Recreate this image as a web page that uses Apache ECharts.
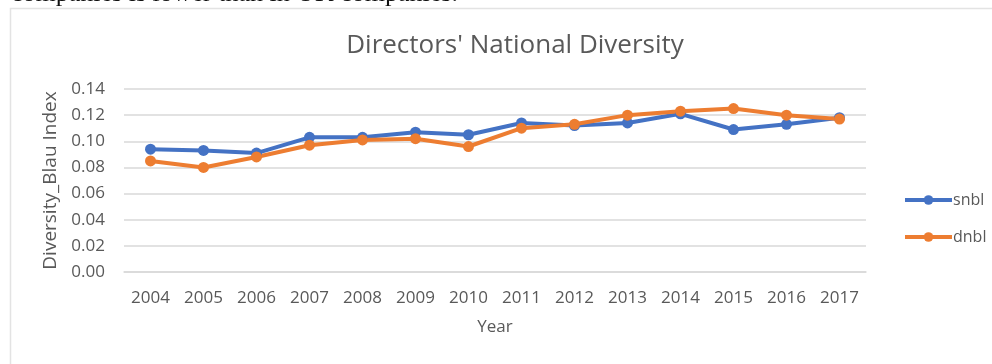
<!DOCTYPE html>
<html>
<head>
<meta charset="utf-8">
<script src="https://cdn.jsdelivr.net/npm/echarts@6/dist/echarts.min.js"></script>
<style>
  html, body { margin: 0; padding: 0; background: #fff; }
  #chart { width: 992px; height: 364px; }
</style>
</head>
<body>
<div id="chart"></div>
<script>
// Directors' national diversity (Blau index) by year
const years = ['2004','2005','2006','2007','2008','2009','2010','2011','2012','2013','2014','2015','2016','2017'];
const snbl = [0.094, 0.093, 0.091, 0.103, 0.103, 0.107, 0.105, 0.114, 0.112, 0.114, 0.121, 0.109, 0.113, 0.118];
const dnbl = [0.085, 0.080, 0.088, 0.097, 0.101, 0.102, 0.096, 0.110, 0.113, 0.120, 0.123, 0.125, 0.120, 0.117];
const yTicks = { min: 0, max: 0.14, interval: 0.02 };

const FONT = '"Open Sans", Lato, sans-serif';
const TXT = '#595959';
const BLUE = '#4472C4';
const ORANGE = '#ED7D31';

const chart = echarts.init(document.getElementById('chart'), null, { renderer: 'canvas' });

function lineSeries(name, data, color) {
  return {
    name: name,
    type: 'line',
    data: data,
    symbol: 'circle',
    symbolSize: 11,
    lineStyle: { color: color, width: 4 },
    itemStyle: { color: color },
    emphasis: { disabled: true }
  };
}

chart.setOption({
  animation: false,
  backgroundColor: '#fff',
  title: {
    text: "Directors' National Diversity",
    left: 510,
    top: 28,
    textAlign: 'center',
    textStyle: { fontFamily: FONT, fontSize: 26, fontWeight: 'normal', color: TXT }
  },
  graphic: [
    {
      type: 'rect',
      shape: { x: 10.5, y: 8.5, width: 1000, height: 400 },
      style: { fill: 'none', stroke: '#e3e3e3', lineWidth: 1.5 },
      z: -1
    },
    {
      type: 'text',
      left: 11,
      top: -19,
      style: {
        text: 'companies is lower than in UK companies.',
        font: '26px "Liberation Serif", "DejaVu Serif", serif',
        fill: '#111'
      }
    }
  ],
  legend: {
    orient: 'vertical',
    left: 898,
    top: 187,
    itemGap: 21,
    itemWidth: 47,
    itemHeight: 12,
    lineStyle: { width: 4 },
    textStyle: { fontFamily: FONT, fontSize: 16, color: TXT, padding: [0, 0, 0, -4] },
    data: ['snbl', 'dnbl']
  },
  grid: { left: 124, right: 126, top: 89, bottom: 92 },
  xAxis: {
    type: 'category',
    data: years,
    boundaryGap: true,
    name: 'Year',
    nameLocation: 'middle',
    nameGap: 47,
    nameTextStyle: { fontFamily: FONT, fontSize: 17, color: TXT },
    axisLine: { show: true, lineStyle: { color: '#d9d9d9', width: 1.5 } },
    axisTick: { show: false },
    axisLabel: { fontFamily: FONT, fontSize: 17, color: TXT, margin: 18 }
  },
  yAxis: {
    type: 'value',
    min: yTicks.min,
    max: yTicks.max,
    interval: yTicks.interval,
    name: 'Diversity_Blau Index',
    nameLocation: 'middle',
    nameGap: 63,
    nameTextStyle: { fontFamily: FONT, fontSize: 19, color: TXT },
    axisLine: { show: false },
    axisTick: { show: false },
    splitLine: { lineStyle: { color: '#d9d9d9', width: 1.5 } },
    axisLabel: {
      fontFamily: FONT, fontSize: 17, color: TXT, margin: 19,
      formatter: v => v.toFixed(2)
    }
  },
  series: [
    lineSeries('snbl', snbl, BLUE),
    lineSeries('dnbl', dnbl, ORANGE)
  ]
});
</script>
</body>
</html>
